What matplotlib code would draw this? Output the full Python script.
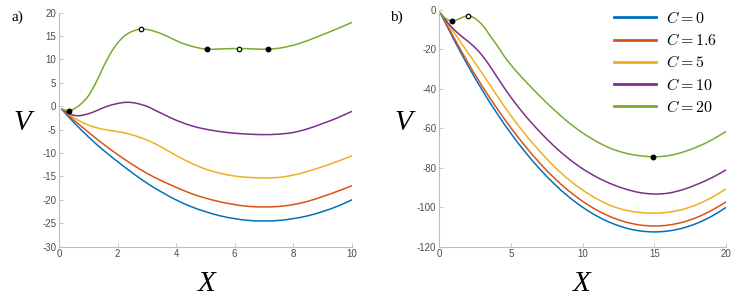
import numpy as np
import matplotlib
matplotlib.use("Agg")
import matplotlib.pyplot as plt
from matplotlib.path import Path
from matplotlib.patches import PathPatch
from matplotlib.lines import Line2D

plt.rcParams["axes.unicode_minus"] = False
plt.rcParams["mathtext.fontset"] = "cm"

# ── colours (MATLAB default order) ──────────────────────────────────────
colors = ["#0072BD", "#D95319", "#EDB120", "#7E2F8E", "#77AC30"]
labels = [r"$C = 0$", r"$C = 1.6$", r"$C = 5$", r"$C = 10$", r"$C = 20$"]

# ── panel a) data ───────────────────────────────────────────────────────
xa = [0.1, 0.5, 1.0, 1.5, 2.0, 2.5, 3.0, 3.5, 4.0, 4.5, 5.0,
      5.5, 6.0, 6.5, 7.0, 7.5, 8.0, 8.5, 9.0, 9.5, 10.0]
va_c0 = [-0.7, -3.4, -6.5, -9.3, -11.8, -14.2, -16.4, -18.3, -20.0, -21.4, -22.5,
         -23.4, -24.0, -24.4, -24.5, -24.4, -24.0, -23.4, -22.5, -21.4, -20.0]
va_c16 = [-0.6, -2.9, -5.5, -8.0, -10.3, -12.4, -14.3, -15.9, -17.3, -18.6, -19.6,
          -20.4, -21.0, -21.4, -21.5, -21.4, -21.0, -20.3, -19.3, -18.2, -17.0]
va_c5 = [-0.6, -2.4, -4.0, -4.9, -5.4, -6.1, -7.2, -8.7, -10.5, -12.1, -13.4,
         -14.3, -14.9, -15.2, -15.3, -15.2, -14.7, -13.9, -12.9, -11.8, -10.6]
xa_c10 = [0.1, 0.3, 0.5, 0.7, 1.0, 1.3, 1.6, 2.0, 2.3, 2.6, 3.0, 3.3, 3.6, 3.9,
          4.2, 4.5, 4.9, 5.5, 6.0, 6.5, 7.0, 7.5, 8.0, 8.5, 9.0, 9.5, 10.0]
va_c10 = [-0.6, -1.4, -1.9, -2.0, -1.6, -0.9, -0.1, 0.6, 0.85, 0.7, 0.0, -0.9, -1.8, -2.7,
          -3.45, -4.1, -4.75, -5.4, -5.75, -5.95, -6.05, -5.95, -5.6, -4.8, -3.7, -2.5, -1.1]
xa_c20 = [0.1, 0.33, 0.5, 0.75, 1.0, 1.25, 1.5, 1.75, 2.0, 2.25, 2.5, 2.8, 3.1, 3.5,
          3.85, 4.2, 4.5, 4.75, 5.05, 5.5, 6.15, 6.7, 7.15, 7.6, 8.2, 8.8, 9.4, 10.0]
va_c20 = [-0.6, -1.0, -0.6, 0.5, 2.2, 4.9, 8.2, 11.2, 13.5, 15.1, 16.0, 16.5, 16.3, 15.5,
          14.5, 13.5, 12.9, 12.5, 12.2, 12.25, 12.35, 12.25, 12.2, 12.5, 13.4, 14.8, 16.3, 17.9]
# stationary points on C = 20 curve
a_min_x = [0.33, 5.05, 7.15]
a_min_v = [-1.0, 12.2, 12.2]
a_max_x = [2.8, 6.15]
a_max_v = [16.5, 12.35]

# ── panel b) data ───────────────────────────────────────────────────────
xb = [0.1, 1, 2, 3, 4, 5, 6, 7, 8, 9, 10,
      11, 12, 13, 14, 15, 16, 17, 18, 19, 20]
vb_c0 = [-1.5, -14.5, -28.0, -40.5, -52.0, -62.5, -72.0, -80.5, -88.0, -94.5, -100.0,
         -104.5, -108.0, -110.5, -112.0, -112.5, -112.0, -110.5, -108.0, -104.5, -100.0]
vb_c16 = [-1.5, -13.5, -26.5, -38.5, -49.5, -59.7, -69.0, -77.5, -85.0, -91.5, -97.0,
          -101.5, -105.0, -107.5, -109.0, -109.5, -109.0, -107.5, -105.0, -101.5, -97.2]
vb_c5 = [-1.5, -11.0, -21.5, -32.0, -43.0, -53.5, -63.0, -71.5, -79.2, -85.8, -91.3,
         -95.8, -99.3, -101.5, -102.7, -103.0, -102.5, -101.0, -98.5, -95.0, -90.6]
xb_c10 = [0.1, 0.5, 1.0, 1.5, 2.0, 2.5, 3.0, 3.5, 4.0, 4.5, 5, 6, 7, 8, 9, 10,
          11, 12, 13, 14, 15, 16, 17, 18, 19, 20]
vb_c10 = [-1.6, -5.5, -9.6, -12.9, -15.8, -19.0, -23.0, -28.0, -33.5, -39.0, -44.2,
          -53.5, -61.6, -68.9, -75.2, -80.5, -84.8, -88.2, -90.8, -92.6, -93.3,
          -92.8, -91.0, -88.3, -85.0, -81.0]
xb_c20 = [0.1, 0.5, 0.9, 1.25, 1.6, 2.0, 2.4, 2.8, 3.2, 3.6, 4.0, 4.5, 5.0, 5.5, 6,
          7, 8, 9, 10, 11, 12, 13, 14, 15, 16, 17, 18, 19, 20]
vb_c20 = [-1.7, -4.5, -5.6, -5.0, -3.8, -3.0, -3.8, -6.0, -9.3, -13.5, -17.5, -23.0,
          -27.8, -32.0, -36.0, -43.5, -50.5, -56.9, -62.3, -66.8, -70.3, -72.6, -73.9,
          -74.4, -73.8, -72.0, -69.3, -65.8, -61.5]
b_min_x = [0.9, 14.9]
b_min_v = [-5.6, -74.4]
b_max_x = [2.0]
b_max_v = [-3.0]

W, H = 739, 302
fig = plt.figure(figsize=(W / 100, H / 100), dpi=100)

grey_axis = "#bdbdbd"
grey_text = "#4d4d4d"


def smooth_path(x, y):
    """Cubic Hermite (Bezier) path through the read-off points."""
    x = np.asarray(x, float)
    y = np.asarray(y, float)
    m = np.empty_like(y)
    m[1:-1] = (y[2:] - y[:-2]) / (x[2:] - x[:-2])
    m[0] = (y[1] - y[0]) / (x[1] - x[0])
    m[-1] = (y[-1] - y[-2]) / (x[-1] - x[-2])
    verts = [(x[0], y[0])]
    codes = [Path.MOVETO]
    for i in range(len(x) - 1):
        h = (x[i + 1] - x[i]) / 3
        verts += [(x[i] + h, y[i] + h * m[i]),
                  (x[i + 1] - h, y[i + 1] - h * m[i + 1]),
                  (x[i + 1], y[i + 1])]
        codes += [Path.CURVE4] * 3
    return Path(verts, codes)


def draw_curve(ax, x, y, c):
    ax.add_patch(PathPatch(smooth_path(x, y), facecolor="none", edgecolor=c,
                           lw=1.1, capstyle="round", joinstyle="round"))


def style_axes(ax):
    for side in ("top", "right"):
        ax.spines[side].set_visible(False)
    for side in ("left", "bottom"):
        ax.spines[side].set_color(grey_axis)
        ax.spines[side].set_linewidth(0.8)
    ax.tick_params(direction="in", length=3, width=0.6, color=grey_axis,
                   labelcolor=grey_text, labelsize=7, pad=2)
    for lab in ax.get_xticklabels() + ax.get_yticklabels():
        lab.set_family("Liberation Sans")


def draw_dots(ax, mx, mv, Mx, Mv):
    ax.plot(mx, mv, "o", color="black", markersize=3.2, zorder=5, clip_on=False)
    ax.plot(Mx, Mv, "o", markerfacecolor="white", markeredgecolor="black",
            markersize=3.2, markeredgewidth=0.9, zorder=5, clip_on=False)


# ── panel a ─────────────────────────────────────────────────────────────
ax1 = fig.add_axes([59 / W, 1 - 246.7 / H, 292.7 / W, 234 / H])
curves_a = [(xa, va_c0), (xa, va_c16), (xa, va_c5), (xa_c10, va_c10), (xa_c20, va_c20)]
for (x, v), c in zip(curves_a, colors):
    draw_curve(ax1, x, v, c)
draw_dots(ax1, a_min_x, a_min_v, a_max_x, a_max_v)
ax1.set_xlim(0, 10)
ax1.set_ylim(-30, 20)
ax1.set_xticks(range(0, 11, 2))
ax1.set_yticks(range(-30, 21, 5))
style_axes(ax1)

# ── panel b ─────────────────────────────────────────────────────────────
ax2 = fig.add_axes([439 / W, 1 - 246.7 / H, 287.3 / W, 236.7 / H])
curves_b = [(xb, vb_c0), (xb, vb_c16), (xb, vb_c5), (xb_c10, vb_c10), (xb_c20, vb_c20)]
for (x, v), c in zip(curves_b, colors):
    draw_curve(ax2, x, v, c)
draw_dots(ax2, b_min_x, b_min_v, b_max_x, b_max_v)
ax2.set_xlim(0, 20)
ax2.set_ylim(-120, 0)
ax2.set_xticks(range(0, 21, 5))
ax2.set_yticks(range(-120, 1, 20))
style_axes(ax2)

handles = [Line2D([], [], color=c, lw=2.0) for c in colors]
ax2.legend(handles, labels, loc="upper right", bbox_to_anchor=(1.0, 1.041),
           frameon=False, fontsize=11.5, handlelength=2.6, handletextpad=0.62,
           labelspacing=0.39, borderaxespad=0.2)

# ── labels ──────────────────────────────────────────────────────────────
serif = "Liberation Serif"
fig.text(12 / W, 1 - 17 / H, "a)", fontsize=11, family=serif, va="center", ha="left")
fig.text(390 / W, 1 - 17 / H, "b)", fontsize=11, family=serif, va="center", ha="left")
fig.text(22 / W, 1 - 123 / H, "V", fontsize=21, family=serif, style="italic",
         va="center", ha="center")
fig.text(403 / W, 1 - 123 / H, "V", fontsize=21, family=serif, style="italic",
         va="center", ha="center")
fig.text(207 / W, 1 - 284 / H, "X", fontsize=21, family=serif, style="italic",
         va="center", ha="center")
fig.text(582 / W, 1 - 284 / H, "X", fontsize=21, family=serif, style="italic",
         va="center", ha="center")

fig.savefig("out.png", dpi=100)
